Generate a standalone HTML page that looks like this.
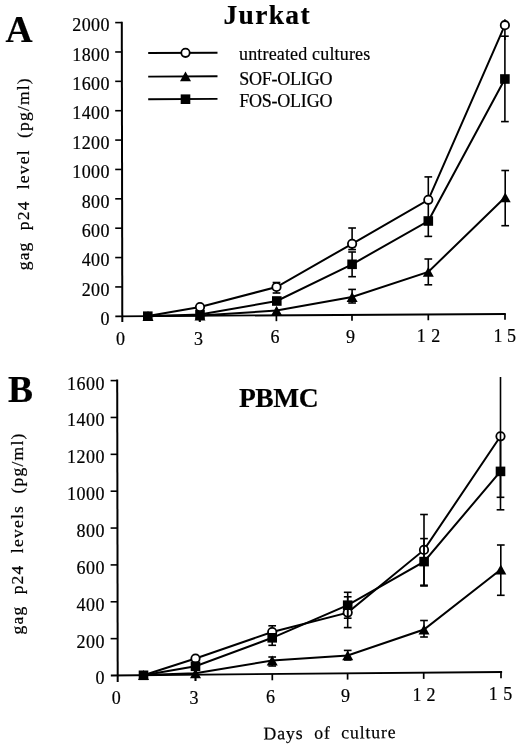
<!DOCTYPE html>
<html lang="en">
<head>
<meta charset="utf-8">
<title>gag p24 levels in Jurkat and PBMC cultures</title>
<style>
html,body{margin:0;padding:0;background:#fff;}
body{width:520px;height:747px;overflow:hidden;}
svg{display:block;}
svg text{font-family:"Liberation Serif", "Times New Roman", serif;fill:#000;stroke:#000;stroke-width:0.2px;white-space:pre;}
svg line,svg polyline,svg circle{stroke:#000;}
</style>
</head>
<body>
<svg width="520" height="747" viewBox="0 0 520 747">
<rect x="0" y="0" width="520" height="747" fill="#ffffff" stroke="none"/>
<line x1="121.80" y1="21.70" x2="122.30" y2="322.00" stroke-width="2.0"/>
<line x1="115.30" y1="316.30" x2="505.80" y2="314.00" stroke-width="1.8"/>
<text x="110.00" y="325.00" font-size="18" text-anchor="end" letter-spacing="0.45">0</text>
<line x1="115.20" y1="286.93" x2="122.25" y2="286.93" stroke-width="1.6"/>
<text x="110.00" y="295.63" font-size="18" text-anchor="end" letter-spacing="0.45">200</text>
<line x1="115.20" y1="257.56" x2="122.20" y2="257.56" stroke-width="1.6"/>
<text x="110.00" y="266.26" font-size="18" text-anchor="end" letter-spacing="0.45">400</text>
<line x1="115.20" y1="228.19" x2="122.15" y2="228.19" stroke-width="1.6"/>
<text x="110.00" y="236.89" font-size="18" text-anchor="end" letter-spacing="0.45">600</text>
<line x1="115.20" y1="198.82" x2="122.10" y2="198.82" stroke-width="1.6"/>
<text x="110.00" y="207.52" font-size="18" text-anchor="end" letter-spacing="0.45">800</text>
<line x1="115.20" y1="169.45" x2="122.05" y2="169.45" stroke-width="1.6"/>
<text x="110.00" y="178.15" font-size="18" text-anchor="end" letter-spacing="0.45">1000</text>
<line x1="115.20" y1="140.08" x2="122.00" y2="140.08" stroke-width="1.6"/>
<text x="110.00" y="148.78" font-size="18" text-anchor="end" letter-spacing="0.45">1200</text>
<line x1="115.20" y1="110.71" x2="121.95" y2="110.71" stroke-width="1.6"/>
<text x="110.00" y="119.41" font-size="18" text-anchor="end" letter-spacing="0.45">1400</text>
<line x1="115.20" y1="81.34" x2="121.90" y2="81.34" stroke-width="1.6"/>
<text x="110.00" y="90.04" font-size="18" text-anchor="end" letter-spacing="0.45">1600</text>
<line x1="115.20" y1="51.97" x2="121.85" y2="51.97" stroke-width="1.6"/>
<text x="110.00" y="60.67" font-size="18" text-anchor="end" letter-spacing="0.45">1800</text>
<line x1="115.20" y1="22.60" x2="121.80" y2="22.60" stroke-width="1.6"/>
<text x="110.00" y="31.30" font-size="18" text-anchor="end" letter-spacing="0.45">2000</text>
<line x1="199.50" y1="315.84" x2="199.50" y2="321.64" stroke-width="1.7"/>
<line x1="276.40" y1="315.37" x2="276.40" y2="321.17" stroke-width="1.7"/>
<line x1="352.00" y1="314.92" x2="352.00" y2="320.72" stroke-width="1.7"/>
<line x1="428.30" y1="314.46" x2="428.30" y2="320.26" stroke-width="1.7"/>
<line x1="505.00" y1="314.00" x2="505.00" y2="319.80" stroke-width="1.7"/>
<text x="120.60" y="344.70" font-size="18" text-anchor="middle">0</text>
<text x="198.50" y="344.50" font-size="18" text-anchor="middle">3</text>
<text x="275.00" y="343.30" font-size="18" text-anchor="middle">6</text>
<text x="350.60" y="343.10" font-size="18" text-anchor="middle">9</text>
<text x="416.80" y="342.00" font-size="18" letter-spacing="5.4">12</text>
<text x="493.40" y="341.60" font-size="18" letter-spacing="4.6">15</text>
<polyline points="148.00,316.00 200.00,307.00 276.50,287.00 352.10,243.80 428.30,199.80 504.90,25.20" fill="none" stroke-width="2.0"/>
<polyline points="147.80,316.20 200.00,314.60 276.80,301.00 352.10,264.30 428.30,221.00 504.90,79.00" fill="none" stroke-width="2.0"/>
<polyline points="148.00,316.00 200.00,315.60 276.60,310.60 352.10,297.00 428.30,271.90 505.20,197.30" fill="none" stroke-width="2.0"/>
<line x1="200.00" y1="316.00" x2="200.00" y2="322.00" stroke-width="1.6"/>
<line x1="276.50" y1="282.50" x2="276.50" y2="293.00" stroke-width="1.6"/>
<line x1="272.65" y1="282.50" x2="280.35" y2="282.50" stroke-width="1.6"/>
<line x1="272.65" y1="293.00" x2="280.35" y2="293.00" stroke-width="1.6"/>
<line x1="352.10" y1="228.00" x2="352.10" y2="249.60" stroke-width="1.6"/>
<line x1="348.25" y1="228.00" x2="355.95" y2="228.00" stroke-width="1.6"/>
<line x1="348.25" y1="249.60" x2="355.95" y2="249.60" stroke-width="1.6"/>
<line x1="352.10" y1="252.00" x2="352.10" y2="276.70" stroke-width="1.6"/>
<line x1="348.25" y1="252.00" x2="355.95" y2="252.00" stroke-width="1.6"/>
<line x1="348.25" y1="276.70" x2="355.95" y2="276.70" stroke-width="1.6"/>
<line x1="352.10" y1="289.40" x2="352.10" y2="303.00" stroke-width="1.6"/>
<line x1="348.25" y1="289.40" x2="355.95" y2="289.40" stroke-width="1.6"/>
<line x1="348.25" y1="303.00" x2="355.95" y2="303.00" stroke-width="1.6"/>
<line x1="428.30" y1="176.90" x2="428.30" y2="236.40" stroke-width="1.6"/>
<line x1="424.45" y1="176.90" x2="432.15" y2="176.90" stroke-width="1.6"/>
<line x1="424.45" y1="236.40" x2="432.15" y2="236.40" stroke-width="1.6"/>
<line x1="428.30" y1="259.00" x2="428.30" y2="284.80" stroke-width="1.6"/>
<line x1="424.45" y1="259.00" x2="432.15" y2="259.00" stroke-width="1.6"/>
<line x1="424.45" y1="284.80" x2="432.15" y2="284.80" stroke-width="1.6"/>
<line x1="504.90" y1="19.30" x2="504.90" y2="40.00" stroke-width="1.6"/>
<line x1="504.90" y1="36.20" x2="504.90" y2="121.60" stroke-width="1.6"/>
<line x1="501.05" y1="36.20" x2="508.75" y2="36.20" stroke-width="1.6"/>
<line x1="501.05" y1="121.60" x2="508.75" y2="121.60" stroke-width="1.6"/>
<line x1="505.20" y1="170.50" x2="505.20" y2="225.70" stroke-width="1.6"/>
<line x1="501.35" y1="170.50" x2="509.05" y2="170.50" stroke-width="1.6"/>
<line x1="501.35" y1="225.70" x2="509.05" y2="225.70" stroke-width="1.6"/>
<polygon points="148.00,311.10 153.50,320.90 142.50,320.90" fill="#000" stroke="none"/>
<polygon points="200.00,310.70 205.50,320.50 194.50,320.50" fill="#000" stroke="none"/>
<polygon points="276.60,305.70 282.10,315.50 271.10,315.50" fill="#000" stroke="none"/>
<polygon points="352.10,292.10 357.60,301.90 346.60,301.90" fill="#000" stroke="none"/>
<polygon points="428.30,267.00 433.80,276.80 422.80,276.80" fill="#000" stroke="none"/>
<polygon points="505.20,192.40 510.70,202.20 499.70,202.20" fill="#000" stroke="none"/>
<rect x="143.00" y="311.40" width="9.6" height="9.6" fill="#000" stroke="none"/>
<rect x="195.20" y="309.80" width="9.6" height="9.6" fill="#000" stroke="none"/>
<rect x="272.00" y="296.20" width="9.6" height="9.6" fill="#000" stroke="none"/>
<rect x="347.30" y="259.50" width="9.6" height="9.6" fill="#000" stroke="none"/>
<rect x="423.50" y="216.20" width="9.6" height="9.6" fill="#000" stroke="none"/>
<rect x="500.10" y="74.20" width="9.6" height="9.6" fill="#000" stroke="none"/>
<circle cx="200.00" cy="307.00" r="4.2" fill="#fff" stroke-width="1.8"/>
<circle cx="276.50" cy="287.00" r="4.2" fill="#fff" stroke-width="1.8"/>
<circle cx="352.10" cy="243.80" r="4.2" fill="#fff" stroke-width="1.8"/>
<circle cx="428.30" cy="199.80" r="4.2" fill="#fff" stroke-width="1.8"/>
<circle cx="504.90" cy="25.20" r="4.2" fill="#fff" stroke-width="1.8"/>
<line x1="148.20" y1="53.00" x2="217.50" y2="52.70" stroke-width="1.9"/>
<circle cx="185.50" cy="52.80" r="4.2" fill="#fff" stroke-width="1.8"/>
<line x1="148.20" y1="76.60" x2="217.50" y2="76.30" stroke-width="1.9"/>
<polygon points="185.50,71.50 191.00,81.30 180.00,81.30" fill="#000" stroke="none"/>
<line x1="148.20" y1="99.20" x2="217.50" y2="98.90" stroke-width="1.9"/>
<rect x="180.70" y="94.40" width="9.6" height="9.6" fill="#000" stroke="none"/>
<text x="239.00" y="60.30" font-size="18" textLength="131.2" lengthAdjust="spacing">untreated cultures</text>
<text x="239.20" y="85.00" font-size="18" textLength="93.2" lengthAdjust="spacing">SOF-OLIGO</text>
<text x="239.20" y="107.00" font-size="18" textLength="93.2" lengthAdjust="spacing">FOS-OLIGO</text>
<text x="223.40" y="24.00" font-size="27.5" font-weight="bold" textLength="86.2" lengthAdjust="spacing">Jurkat</text>
<text x="5.50" y="42.40" font-size="37.5" font-weight="bold">A</text>
<text x="29.00" y="270.30" font-size="17.5" letter-spacing="1" textLength="193" lengthAdjust="spacing" transform="rotate(-90 29.00 270.30)">gag  p24  level  (pg/ml)</text>
<line x1="117.20" y1="379.60" x2="117.70" y2="682.00" stroke-width="2.0"/>
<line x1="110.80" y1="675.50" x2="502.10" y2="672.00" stroke-width="1.8"/>
<text x="104.90" y="684.40" font-size="18" text-anchor="end" letter-spacing="0.45">0</text>
<line x1="110.60" y1="638.64" x2="117.64" y2="638.64" stroke-width="1.6"/>
<text x="104.90" y="647.54" font-size="18" text-anchor="end" letter-spacing="0.45">200</text>
<line x1="110.60" y1="601.77" x2="117.58" y2="601.77" stroke-width="1.6"/>
<text x="104.90" y="610.67" font-size="18" text-anchor="end" letter-spacing="0.45">400</text>
<line x1="110.60" y1="564.91" x2="117.51" y2="564.91" stroke-width="1.6"/>
<text x="104.90" y="573.81" font-size="18" text-anchor="end" letter-spacing="0.45">600</text>
<line x1="110.60" y1="528.05" x2="117.45" y2="528.05" stroke-width="1.6"/>
<text x="104.90" y="536.95" font-size="18" text-anchor="end" letter-spacing="0.45">800</text>
<line x1="110.60" y1="491.19" x2="117.39" y2="491.19" stroke-width="1.6"/>
<text x="104.90" y="500.09" font-size="18" text-anchor="end" letter-spacing="0.45">1000</text>
<line x1="110.60" y1="454.33" x2="117.33" y2="454.33" stroke-width="1.6"/>
<text x="104.90" y="463.23" font-size="18" text-anchor="end" letter-spacing="0.45">1200</text>
<line x1="110.60" y1="417.46" x2="117.26" y2="417.46" stroke-width="1.6"/>
<text x="104.90" y="426.36" font-size="18" text-anchor="end" letter-spacing="0.45">1400</text>
<line x1="110.60" y1="380.60" x2="117.20" y2="380.60" stroke-width="1.6"/>
<text x="104.90" y="389.50" font-size="18" text-anchor="end" letter-spacing="0.45">1600</text>
<line x1="195.50" y1="674.79" x2="195.50" y2="680.99" stroke-width="1.7"/>
<line x1="272.30" y1="674.09" x2="272.30" y2="680.29" stroke-width="1.7"/>
<line x1="347.60" y1="673.40" x2="347.60" y2="679.60" stroke-width="1.7"/>
<line x1="423.70" y1="672.71" x2="423.70" y2="678.91" stroke-width="1.7"/>
<line x1="501.00" y1="672.00" x2="501.00" y2="678.20" stroke-width="1.7"/>
<text x="116.20" y="703.90" font-size="18" text-anchor="middle">0</text>
<text x="194.00" y="703.70" font-size="18" text-anchor="middle">3</text>
<text x="270.60" y="702.70" font-size="18" text-anchor="middle">6</text>
<text x="345.60" y="702.30" font-size="18" text-anchor="middle">9</text>
<text x="412.40" y="701.10" font-size="18" letter-spacing="5.0">12</text>
<text x="488.80" y="700.10" font-size="18" letter-spacing="5.4">15</text>
<polyline points="143.50,675.30 195.50,658.50 272.20,632.00 347.70,612.60 424.00,549.90 500.50,436.30" fill="none" stroke-width="2.0"/>
<polyline points="143.50,675.30 195.50,666.30 272.20,637.80 347.70,605.20 424.10,561.60 500.50,471.40" fill="none" stroke-width="2.0"/>
<polyline points="143.50,675.00 195.50,673.30 272.20,660.50 347.70,655.40 424.00,629.50 500.80,569.50" fill="none" stroke-width="2.0"/>
<circle cx="347.70" cy="612.60" r="4.2" fill="#fff" stroke-width="1.8"/>
<circle cx="424.00" cy="549.90" r="4.2" fill="#fff" stroke-width="1.8"/>
<circle cx="500.50" cy="436.30" r="4.2" fill="#fff" stroke-width="1.8"/>
<line x1="195.50" y1="675.00" x2="195.50" y2="681.00" stroke-width="1.6"/>
<line x1="272.20" y1="625.80" x2="272.20" y2="645.30" stroke-width="1.6"/>
<line x1="268.35" y1="625.80" x2="276.05" y2="625.80" stroke-width="1.6"/>
<line x1="268.35" y1="645.30" x2="276.05" y2="645.30" stroke-width="1.6"/>
<line x1="272.20" y1="657.00" x2="272.20" y2="666.00" stroke-width="1.6"/>
<line x1="268.35" y1="657.00" x2="276.05" y2="657.00" stroke-width="1.6"/>
<line x1="268.35" y1="666.00" x2="276.05" y2="666.00" stroke-width="1.6"/>
<line x1="347.70" y1="592.30" x2="347.70" y2="618.20" stroke-width="1.6"/>
<line x1="343.85" y1="592.30" x2="351.55" y2="592.30" stroke-width="1.6"/>
<line x1="343.85" y1="618.20" x2="351.55" y2="618.20" stroke-width="1.6"/>
<line x1="347.70" y1="596.80" x2="347.70" y2="627.60" stroke-width="1.6"/>
<line x1="343.85" y1="596.80" x2="351.55" y2="596.80" stroke-width="1.6"/>
<line x1="343.85" y1="627.60" x2="351.55" y2="627.60" stroke-width="1.6"/>
<line x1="347.70" y1="650.40" x2="347.70" y2="660.00" stroke-width="1.6"/>
<line x1="343.85" y1="650.40" x2="351.55" y2="650.40" stroke-width="1.6"/>
<line x1="343.85" y1="660.00" x2="351.55" y2="660.00" stroke-width="1.6"/>
<line x1="424.00" y1="514.50" x2="424.00" y2="585.20" stroke-width="1.6"/>
<line x1="420.15" y1="514.50" x2="427.85" y2="514.50" stroke-width="1.6"/>
<line x1="420.15" y1="585.20" x2="427.85" y2="585.20" stroke-width="1.6"/>
<line x1="424.00" y1="538.60" x2="424.00" y2="586.00" stroke-width="1.6"/>
<line x1="420.15" y1="538.60" x2="427.85" y2="538.60" stroke-width="1.6"/>
<line x1="420.15" y1="586.00" x2="427.85" y2="586.00" stroke-width="1.6"/>
<line x1="424.00" y1="620.50" x2="424.00" y2="637.00" stroke-width="1.6"/>
<line x1="420.15" y1="620.50" x2="427.85" y2="620.50" stroke-width="1.6"/>
<line x1="420.15" y1="637.00" x2="427.85" y2="637.00" stroke-width="1.6"/>
<line x1="500.50" y1="377.00" x2="500.50" y2="497.30" stroke-width="1.6"/>
<line x1="496.65" y1="497.30" x2="504.35" y2="497.30" stroke-width="1.6"/>
<line x1="500.50" y1="440.00" x2="500.50" y2="509.80" stroke-width="1.6"/>
<line x1="496.65" y1="509.80" x2="504.35" y2="509.80" stroke-width="1.6"/>
<line x1="500.80" y1="545.00" x2="500.80" y2="595.30" stroke-width="1.6"/>
<line x1="496.95" y1="545.00" x2="504.65" y2="545.00" stroke-width="1.6"/>
<line x1="496.95" y1="595.30" x2="504.65" y2="595.30" stroke-width="1.6"/>
<circle cx="195.50" cy="658.50" r="4.2" fill="#fff" stroke-width="1.8"/>
<circle cx="272.20" cy="632.00" r="4.2" fill="#fff" stroke-width="1.8"/>
<polygon points="143.50,670.10 149.00,679.90 138.00,679.90" fill="#000" stroke="none"/>
<polygon points="195.50,668.40 201.00,678.20 190.00,678.20" fill="#000" stroke="none"/>
<polygon points="272.20,655.60 277.70,665.40 266.70,665.40" fill="#000" stroke="none"/>
<polygon points="347.70,650.50 353.20,660.30 342.20,660.30" fill="#000" stroke="none"/>
<polygon points="424.00,624.60 429.50,634.40 418.50,634.40" fill="#000" stroke="none"/>
<polygon points="500.80,564.60 506.30,574.40 495.30,574.40" fill="#000" stroke="none"/>
<rect x="138.70" y="670.50" width="9.6" height="9.6" fill="#000" stroke="none"/>
<rect x="190.70" y="661.50" width="9.6" height="9.6" fill="#000" stroke="none"/>
<rect x="267.40" y="633.00" width="9.6" height="9.6" fill="#000" stroke="none"/>
<rect x="342.90" y="600.40" width="9.6" height="9.6" fill="#000" stroke="none"/>
<rect x="419.30" y="556.80" width="9.6" height="9.6" fill="#000" stroke="none"/>
<rect x="495.70" y="466.60" width="9.6" height="9.6" fill="#000" stroke="none"/>
<text x="239.00" y="407.00" font-size="27.5" font-weight="bold" letter-spacing="-0.45">PBMC</text>
<text x="8.00" y="402.40" font-size="37.5" font-weight="bold">B</text>
<text x="23.20" y="634.60" font-size="17.5" letter-spacing="1" textLength="202" lengthAdjust="spacing" transform="rotate(-90 23.20 634.60)">gag  p24  levels  (pg/ml)</text>
<text x="263.60" y="739.40" font-size="17.8" letter-spacing="0.85" textLength="133" lengthAdjust="spacing" transform="rotate(-0.6 263.60 739.40)">Days  of  culture</text>
</svg>
</body>
</html>
